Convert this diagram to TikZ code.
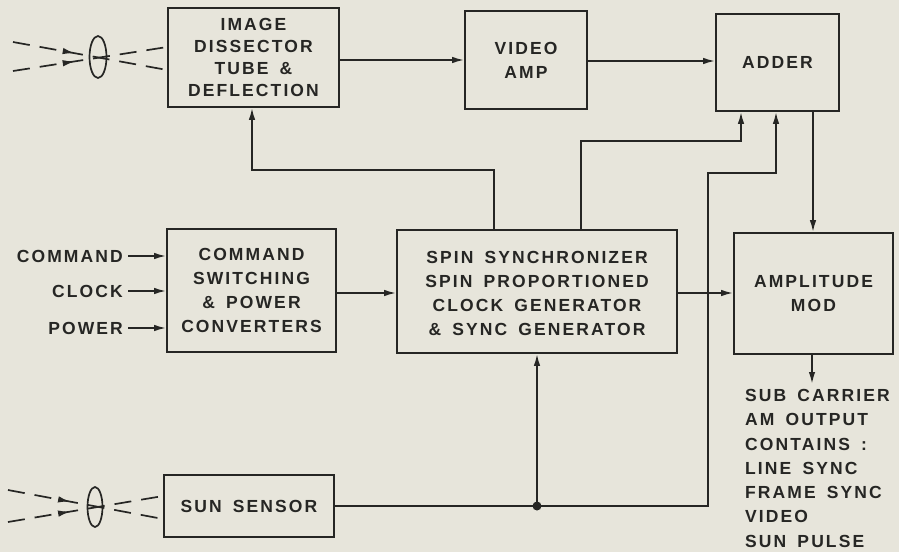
\documentclass[tikz,border=0pt]{standalone}
\usepackage{fontspec}
\setmainfont{Liberation Sans}
\newfontfamily\lab[LetterSpace=12,WordSpace=1.6]{Liberation Sans}
\usetikzlibrary{arrows.meta,decorations.markings}
\definecolor{paper}{RGB}{231,229,219}
\definecolor{ink}{RGB}{38,38,36}
\begin{document}
\begin{tikzpicture}[x=1pt,y=-1pt,
  txt/.style={font=\lab\bfseries\fontsize{17.5}{24}\selectfont, text=ink, inner sep=0pt},
  box/.style={txt, draw=ink, line width=1.7pt, rectangle, align=center},
  wire/.style={line width=1.7pt, draw=ink},
  arr/.style={wire, -{Latex[length=12pt,width=6.5pt]}},
  ray/.style={wire, dash pattern=on 17pt off 10pt,
    postaction={decorate, decoration={markings,
      mark=at position 0.40 with {\arrow[ink]{Latex[length=12pt,width=6.5pt]}}}}},
  lens/.style={wire}]
\fill[paper] (0,0) rectangle (899,552);
\useasboundingbox (0,0) rectangle (899,552);

% boxes
\node[box, minimum width=171pt, minimum height=99pt,
  font=\lab\bfseries\fontsize{17.5}{22}\selectfont] (dis) at (253.5,57.5)
  {IMAGE\\DISSECTOR\\TUBE \&\\DEFLECTION};
\node[box, minimum width=122pt, minimum height=98pt] (vid) at (526,60)
  {VIDEO\\AMP};
\node[box, minimum width=123pt, minimum height=97pt] (add) at (777.5,62.5)
  {ADDER};
\node[box, minimum width=169pt, minimum height=123pt] (cmd) at (251.5,290.5)
  {COMMAND\\SWITCHING\\\& POWER\\CONVERTERS};
\node[box, minimum width=280pt, minimum height=123pt] (spin) at (537,291.5)
  {\raisebox{-8pt}[0pt][0pt]{\begin{tabular}{@{}c@{}}SPIN SYNCHRONIZER\\SPIN PROPORTIONED\\CLOCK GENERATOR\\\& SYNC GENERATOR\end{tabular}}};
\node[box, minimum width=159pt, minimum height=121pt] (amp) at (813.5,293.5)
  {AMPLITUDE\\MOD};
\node[box, minimum width=170pt, minimum height=62pt] (sun) at (249,506)
  {SUN SENSOR};

% input labels
\node[txt, anchor=east] (lcmd) at (123,256) {COMMAND};
\node[txt, anchor=east] (lclk) at (123,291) {CLOCK};
\node[txt, anchor=east] (lpow) at (123,328) {POWER};
\draw[arr] ([xshift=5pt]lcmd.east) -- (cmd.west |- lcmd.east);
\draw[arr] ([xshift=5pt]lclk.east) -- (cmd.west |- lclk.east);
\draw[arr] ([xshift=5pt]lpow.east) -- (cmd.west |- lpow.east);

% output label
\node[txt, anchor=north west, align=left,
  font=\lab\bfseries\fontsize{17.5}{24.3}\selectfont] (outtxt) at (745,389)
  {SUB CARRIER\\AM OUTPUT\\CONTAINS :\\LINE SYNC\\FRAME SYNC\\VIDEO\\SUN PULSE};
\coordinate (out) at (812,384);

% lenses and rays
\draw[lens] (98,57) ellipse (8.5 and 21);
\draw[ray] (13,42) -- (dis.west |- 0,70);
\draw[ray] (13,71) -- (dis.west |- 0,47);
\draw[lens] (95,507) ellipse (7.5 and 20);
\draw[ray] (8,490) -- (sun.west |- 0,519);
\draw[ray] (8,522) -- (sun.west |- 0,496);

% connectors
\draw[arr] (dis.east |- 0,60) -- (vid.west |- 0,60);
\draw[arr] (vid.east |- 0,61) -- (add.west |- 0,61);
\draw[arr] (spin.north -| 494,0) |- (252,170) -- (dis.south -| 252,0);
\draw[arr] (spin.north -| 581,0) |- (741,141) -- (add.south -| 741,0);
\coordinate (j) at (sun.east -| spin.south);
\draw[arr] (sun.east) -| (708,173) -| (add.south -| 776,0);
\draw[arr] (j) -- (spin.south);
\fill[ink] (j) circle (4.5pt);
\draw[arr] (add.south -| 813,0) -- (amp.north -| 813,0);
\draw[arr] (spin.east |- 0,293) -- (amp.west |- 0,293);
\draw[arr] (cmd.east |- 0,293) -- (spin.west |- 0,293);
\draw[arr] (amp.south -| out) -- (out);
\end{tikzpicture}
\end{document}
